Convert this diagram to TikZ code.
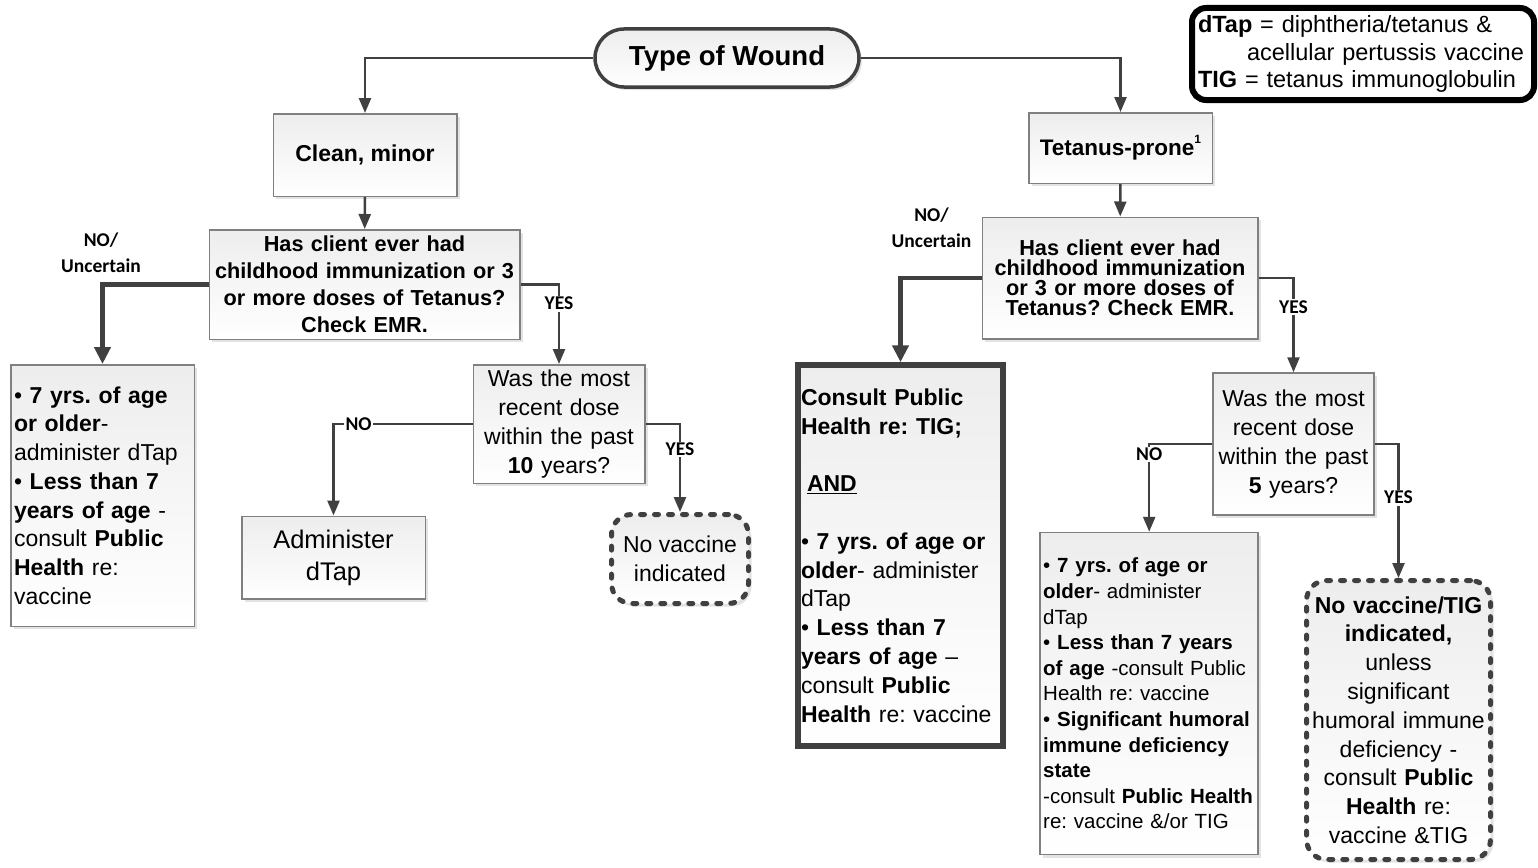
\documentclass[tikz,border=0pt]{standalone}
\usepackage{fontspec}
\setmainfont{Liberation Sans}
\newfontfamily\lblfont{Carlito}
\usetikzlibrary{arrows.meta,shadows}
\definecolor{lineclr}{HTML}{404040}
\definecolor{boxclr}{HTML}{808080}
\newcommand{\setfs}[2]{\fontsize{#1}{#2}\selectfont}
\frenchspacing
\tikzset{
  shade/.style={top color=gray!14, bottom color=white,
    drop shadow={shadow xshift=3pt, shadow yshift=-3pt, opacity=0.22}},
  box/.style={shade, draw=boxclr, line width=1.5pt, inner sep=3pt, align=center},
  thickbox/.style={shade, draw=lineclr, line width=6pt, inner sep=3pt, align=left},
  dotbox/.style={shade, draw=lineclr, line width=5pt, dash pattern=on 4pt off 10pt,
    line cap=round, rounded corners=20pt, inner sep=3pt, align=center},
  lbl/.style={font=\lblfont\bfseries\setfs{19.5}{26}, fill=white, inner sep=1.5pt},
  arr/.style={draw=lineclr, line width=2.5pt, -{Triangle[length=15pt,width=12pt]}},
  thickarr/.style={draw=lineclr, line width=4.5pt, -{Triangle[length=17pt,width=16pt]}}
}
\begin{document}
\begin{tikzpicture}[x=1pt,y=-1pt]
    \useasboundingbox (0,0) rectangle (1538,867);
    %% top of the chart and legend
    \node[shade, draw=lineclr, line width=3.5pt, rounded corners=29pt,
      minimum width=264pt, minimum height=58pt,
      font=\bfseries\setfs{27.5}{33}] (wound) at (727,58) {Type of Wound};
    \node[draw=black, fill=white, line width=6pt, rounded corners=14pt,
      minimum width=342pt, minimum height=92pt, inner xsep=6pt, text width=330pt,
      align=left, font=\setfs{23.5}{27.5}] (legend) at (1363,54)
      {\textbf{dTap} = diphtheria/tetanus \&\\
       \hspace*{49pt}acellular pertussis vaccine\\
       \textbf{TIG} = tetanus immunoglobulin};
    \node[box, minimum width=183.5pt, minimum height=82.5pt,
      font=\bfseries\setfs{23}{28}] (clean) at (365,155) {Clean, minor};
    \node[box, minimum width=183.5pt, minimum height=70.5pt,
      font=\bfseries\setfs{22.5}{28}] (prone) at (1120.5,148)
      {Tetanus-prone\raisebox{0.55em}{\setfs{12}{12}1}};
    %% immunization questions
    \node[box, minimum width=310.5pt, minimum height=109.5pt, text width=302pt,
      font=\bfseries\setfs{21.7}{27}] (histA) at (364.5,284.5)
      {Has client ever had\\childhood immunization or 3\\or more doses of Tetanus?\\Check EMR.};
    \node[box, minimum width=275.5pt, minimum height=121.5pt, text width=268pt,
      font=\bfseries\setfs{21.7}{20}] (histB) at (1120,278)
      {Has client ever had\\childhood immunization\\or 3 or more doses of\\Tetanus? Check EMR.};
    %% left branch
    \node[box, align=left, minimum width=183.5pt, minimum height=261.5pt, text width=177pt,
      font=\setfs{23}{28.7}] (olderA) at (102.5,495.5)
      {\textbullet\ \textbf{7 yrs. of age}\\ \textbf{or older}-\\ administer dTap\\
       \textbullet\ \textbf{Less than 7}\\ \textbf{years of age} -\\ consult \textbf{Public}\\
       \textbf{Health} re:\\ vaccine};
    \node[box, minimum width=171.5pt, minimum height=118.5pt, text width=164pt,
      font=\setfs{23}{29}] (recentA) at (559,424)
      {Was the most\\recent dose\\within the past\\\textbf{10} years?};
    \node[box, minimum width=183.5pt, minimum height=82.5pt,
      font=\setfs{25.5}{32}] (admin) at (333.5,557.5) {Administer\\dTap};
    \node[dotbox, minimum width=137pt, minimum height=89pt,
      font=\setfs{23}{29}] (novac) at (680,559) {No vaccine\\indicated};
    %% right branch
    \node[thickbox, minimum width=205.5pt, minimum height=380.5pt, text width=199pt,
      font=\setfs{23}{28.8}] (consult) at (900.5,555.5)
      {\textbf{Consult Public}\\ \textbf{Health re: TIG;}\\ \mbox{}\\
       \hspace*{6pt}\textbf{\underline{AND}}\\ \mbox{}\\
       \textbullet\ \textbf{7 yrs. of age or}\\ \textbf{older}- administer\\ dTap\\
       \textbullet\ \textbf{Less than 7}\\ \textbf{years of age} --\\
       consult \textbf{Public}\\ \textbf{Health} re: vaccine};
    \node[box, minimum width=160.5pt, minimum height=142pt, text width=155pt,
      font=\setfs{23}{29}] (recentB) at (1293.5,444)
      {Was the most\\recent dose\\within the past\\\textbf{5} years?};
    \node[box, align=left, minimum width=218pt, minimum height=322pt, text width=212pt,
      font=\setfs{20.5}{25.6}] (doses) at (1149.2,693.5)
      {\textbullet\ \textbf{7 yrs. of age or}\\ \textbf{older}- administer\\ dTap\\
       \textbullet\ \textbf{Less than 7 years}\\ \textbf{of age} -consult Public\\
       Health re: vaccine\\ \textbullet\ \textbf{Significant humoral}\\
       \textbf{immune deficiency}\\ \textbf{state}\\ -consult \textbf{Public Health}\\
       re: vaccine \&/or TIG};
    \node[dotbox, minimum width=184pt, minimum height=279pt, text width=178pt,
      font=\setfs{23}{28.8}] (notig) at (1398.5,720)
      {\textbf{No vaccine/TIG}\\ \textbf{indicated,}\\ unless\\ significant\\
       humoral immune\\ deficiency -\\ consult \textbf{Public}\\ \textbf{Health} re:\\
       vaccine \&TIG};
    %% branch labels off the lines
    \node[lbl, fill=none, align=center] (unsureA) at (101,253) {NO/\\Uncertain};
    \node[lbl, fill=none, align=center] (unsureB) at (931.5,228) {NO/\\Uncertain};
    %% connectors
    \draw[arr] (wound.west) -| (clean.north);
    \draw[arr] (wound.east) -| (prone.north);
    \draw[arr] (clean) -- (histA);
    \draw[arr] (prone) -- (histB);
    \draw[thickarr] (histA.west) -| (olderA.north);
    \draw[arr] (histA.east) -| node[lbl, pos=0.62] {YES} (recentA.north);
    \draw[arr] (recentA.west) -| node[lbl, pos=0.41] {NO} (admin.north);
    \draw[arr] (recentA.east) -| node[lbl, pos=0.645] {YES} (novac.north);
    \draw[thickarr] (histB.west) -| (consult.north);
    \draw[arr] (histB.east) -| node[lbl, pos=0.656] {YES} (recentB.north);
    \draw[arr] (recentB.west) -| node[lbl, pos=0.56] {NO} (doses.north);
    \draw[arr] (recentB.east) -| node[lbl, pos=0.70] {YES} (notig.north);
\end{tikzpicture}
\end{document}
